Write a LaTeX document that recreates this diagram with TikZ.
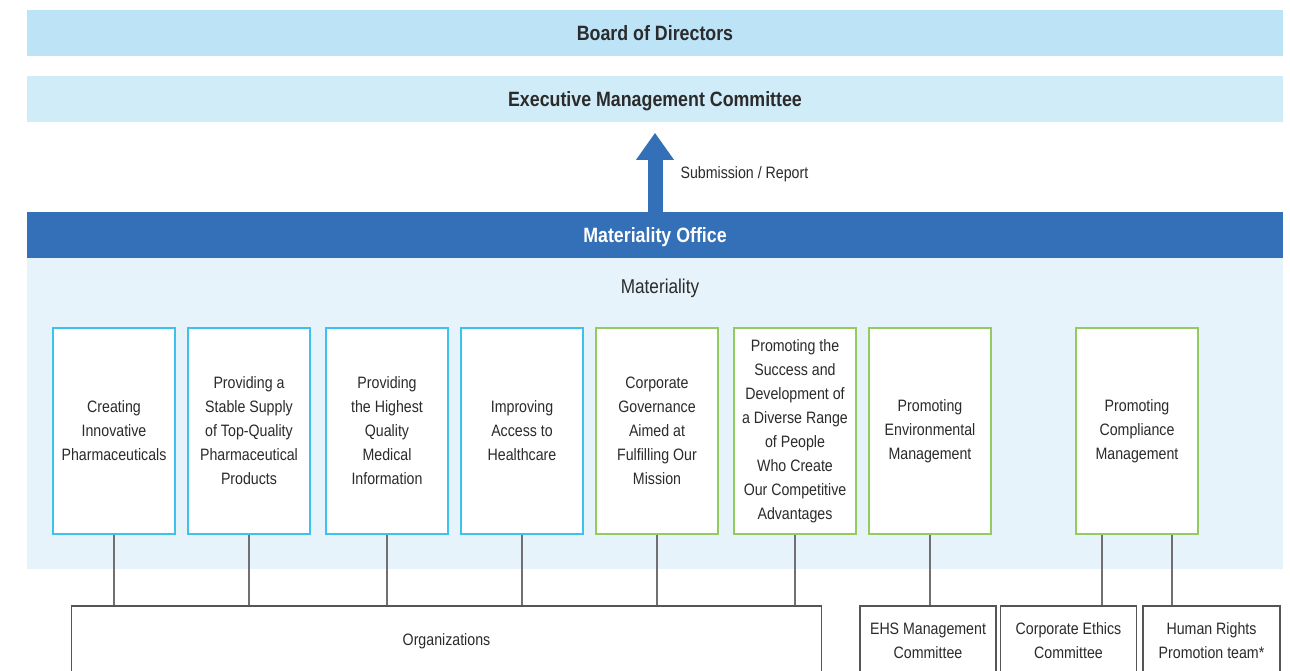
\documentclass[tikz,border=0pt]{standalone}
\usepackage{fontspec}
\setmainfont{Liberation Sans}[FakeStretch=0.86]
\usetikzlibrary{arrows.meta}
\definecolor{boardfill}{HTML}{BDE3F7}
\definecolor{execfill}{HTML}{D1ECF9}
\definecolor{officeblue}{HTML}{3370B7}
\definecolor{areafill}{HTML}{E6F3FA}
\definecolor{matblue}{HTML}{3CC2EF}
\definecolor{matgreen}{HTML}{92CC5E}
\definecolor{inkgray}{HTML}{2B2B2B}
\definecolor{linkgray}{HTML}{707070}
\definecolor{unitgray}{HTML}{555555}
\tikzset{
  bar/.style={minimum width=1256, minimum height=46, inner sep=0, draw=none,
    text height=15, text depth=0,
    font=\fontsize{20.7}{24}\selectfont\bfseries, text=inkgray},
  theme/.style={draw, fill=white, line width=1.4, minimum width=122, minimum height=206,
    inner sep=0, align=center, text=inkgray, font=\fontsize{16.5}{24}\selectfont},
  bluetheme/.style={theme, draw=matblue},
  greentheme/.style={theme, draw=matgreen},
  unit/.style={draw=unitgray, fill=white, line width=1.4, minimum height=70, inner sep=0,
    align=center, text=inkgray, font=\fontsize{16.5}{24}\selectfont},
  link/.style={draw=linkgray, line width=1.4}
}
\begin{document}
\begin{tikzpicture}[x=1pt, y=-1pt]
\useasboundingbox (0,0) rectangle (1290,671);
\clip (0,0) rectangle (1290,671);
\fill[white] (0,0) rectangle (1290,671);

% top governance bars
\node[bar, fill=boardfill] (board) at (655,33) {Board of Directors};
\node[bar, fill=execfill] (exec) at (655,99) {Executive Management Committee};

% materiality area
\fill[areafill] (27,258) rectangle (1283,569);
\node[bar, fill=officeblue, text=white] (office) at (655,235) {Materiality Office};
\node[text=inkgray, font=\fontsize{20}{24}\selectfont] (mat) at (660,288.5) {Materiality};

% report arrow
\draw[officeblue, line width=15, -{Triangle[width=36pt, length=27pt]}]
  (office.north) -- ++(0,-79) coordinate (tip);
\node[anchor=west, text=inkgray, font=\fontsize{16.5}{20}\selectfont] (report) at (677,174.5) {Submission / Report};

% materiality themes
\node[bluetheme] (t1) at (114,431) {Creating\\Innovative\\Pharmaceuticals};
\node[bluetheme] (t2) at (249,431) {Providing a\\Stable Supply\\of Top-Quality\\Pharmaceutical\\Products};
\node[bluetheme] (t3) at (387,431) {Providing\\the Highest\\Quality\\Medical\\Information};
\node[bluetheme] (t4) at (522,431) {Improving\\Access to\\Healthcare};
\node[greentheme] (t5) at (657,431) {Corporate\\Governance\\Aimed at\\Fulfilling Our\\Mission};
\node[greentheme] (t6) at (795,431) {Promoting the\\Success and\\Development of\\a Diverse Range\\of People\\Who Create\\Our Competitive\\Advantages};
\node[greentheme] (t7) at (930,431) {Promoting\\Environmental\\Management};
\node[greentheme] (t8) at (1137,431) {Promoting\\Compliance\\Management};

% responsible units
\node[unit, minimum width=750] (org) at (446.5,641) {Organizations};
\node[unit, minimum width=136] (ehs) at (928,641) {EHS Management\\Committee};
\node[unit, minimum width=136] (ethics) at (1068.5,641) {Corporate Ethics\\Committee};
\node[unit, minimum width=137] (rights) at (1211.5,641) {Human Rights\\Promotion team*};

% connectors
\foreach \t in {t1,t2,t3,t4,t5,t6}
  \draw[link] (\t.south) -- (\t.south |- org.north);
\draw[link] (t7.south) -- (t7.south |- ehs.north);
\draw[link] ([xshift=-35]t8.south) -- ([xshift=-35]t8.south |- ethics.north);
\draw[link] ([xshift=35]t8.south) -- ([xshift=35]t8.south |- rights.north);
\end{tikzpicture}
\end{document}
